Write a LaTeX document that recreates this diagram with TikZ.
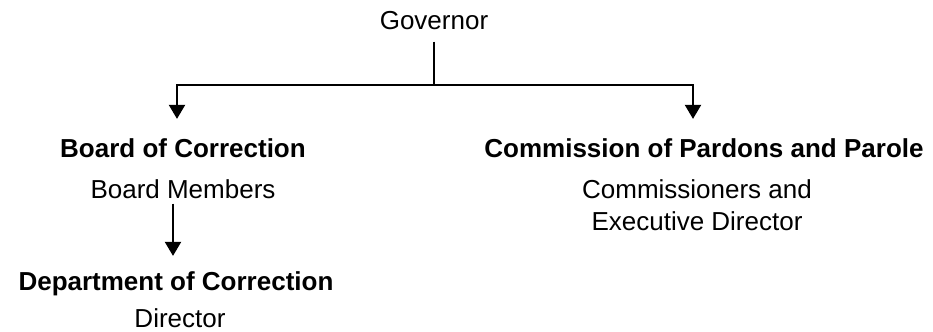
\documentclass[tikz,border=0pt]{standalone}
\usepackage{fontspec}
\setmainfont{Liberation Sans}
\usetikzlibrary{arrows.meta, positioning}

\begin{document}
\begin{tikzpicture}[
        x=0.75pt, y=-0.75pt,
        every node/.style={inner sep=0pt, anchor=base, align=center, font=\fontsize{19.5}{24}\selectfont},
        title/.style={font=\fontsize{19.5}{24}\selectfont\bfseries},
        link/.style={line width=1.5pt},
        arrow/.style={link, -{Triangle[width=12pt, length=10.5pt]}}
    ]
    \useasboundingbox (0,0) rectangle (933,332);

    % Nodes
    \node (gov) at (434,29) {Governor};
    \node [title] (board) at (183,157) {Board of Correction};
    \node (members) at (183,198) {Board Members};
    \node [title] (dept) at (176,290) {Department of Correction};
    \node (director) at (180,327) {Director};
    \node [title] (pardons) at (704,157) {Commission of Pardons and Parole};
    \node (commissioners) at (697,230) {Commissioners and \\ Executive Director};
    \coordinate (split) at (434,85);

    % Arrows
    \draw[link, shorten <=9pt] (gov) -- (split);
    \draw[arrow, shorten >=14.25pt] (split) -| ([xshift=-4.5pt]board.north);
    \draw[arrow, shorten >=14.25pt] (split) -| ([xshift=-8.25pt]pardons.north);
    \draw[arrow, shorten <=3.75pt, shorten >=11.25pt] ([xshift=-7.5pt]members.south) -- ([xshift=-7.5pt]members.south |- dept.north);

\end{tikzpicture}
\end{document}
